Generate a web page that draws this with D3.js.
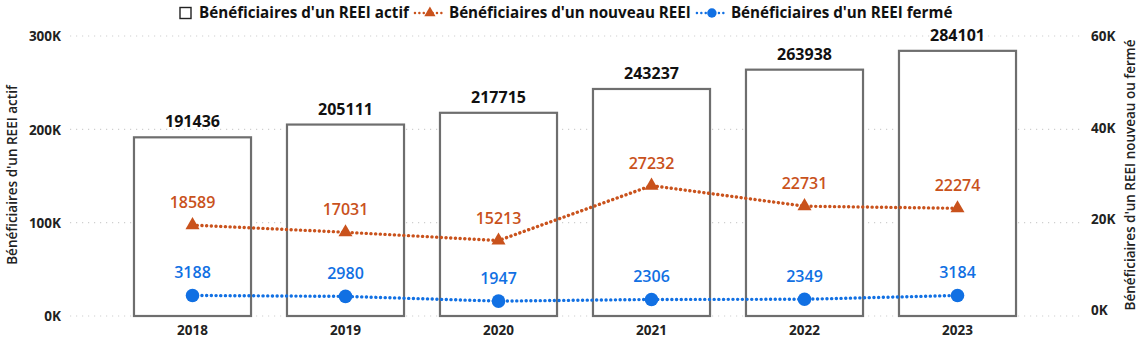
<!DOCTYPE html>
<html><head><meta charset="utf-8">
<script src="https://cdn.jsdelivr.net/npm/d3@7"></script>
<style>
html,body{margin:0;padding:0;background:#fff;}
text{font-family:"Open Sans","Noto Sans",sans-serif;}
</style></head>
<body>
<svg id="chart" width="1140" height="347"></svg>
<script>
const years = ["2018","2019","2020","2021","2022","2023"];
const actifs = [191436,205111,217715,243237,263938,284101];
const nouveaux = [18589,17031,15213,27232,22731,22274];
const fermes = [3188,2980,1947,2306,2349,3184];
const leftTicks = [0,100000,200000,300000];
const rightTicks = [0,20000,40000,60000];
const legendLabels = ["Bénéficiaires d'un REEI actif","Bénéficiaires d'un nouveau REEI","Bénéficiaires d'un REEI fermé"];
const leftTitle = "Bénéficiaires d'un REEI actif";
const rightTitle = "Bénéficiaires d'un REEI nouveau ou fermé";

const orange = "#C9521C", blue = "#1170E3", barStroke = "#6e6e6e";
const svg = d3.select("#chart");

const x = d3.scaleBand().domain(years).range([116,1034]).paddingInner(0.235).paddingOuter(0.1175);
const yL = d3.scaleLinear().domain([0,300000]).range([316,36]);
const yR = d3.scaleLinear().domain([0,60000]).range([310,36]);
const fmtK = d => (d/1000)+"K";

// gridlines
svg.append("g").selectAll("line").data(leftTicks).join("line")
  .attr("x1",70).attr("x2",1082).attr("y1",d=>yL(d)).attr("y2",d=>yL(d))
  .attr("stroke","#cfcfcf").attr("stroke-width",1.2).attr("stroke-dasharray","1.2 4.8");

// left axis
const axL = d3.axisLeft(yL).tickValues(leftTicks).tickFormat(fmtK).tickSize(0).tickPadding(0);
const gL = svg.append("g").attr("transform","translate(61,0)").call(axL);
gL.select(".domain").remove();
gL.selectAll("text").attr("font-size",13.5).attr("font-weight",700).attr("fill","#222").attr("dy","0.35em");

// right axis
const axR = d3.axisRight(yR).tickValues(rightTicks).tickFormat(fmtK).tickSize(0).tickPadding(0);
const gR = svg.append("g").attr("transform","translate(1091,0)").call(axR);
gR.select(".domain").remove();
gR.selectAll("text").attr("font-size",13.5).attr("font-weight",700).attr("fill","#222").attr("dy","0.35em");

// x axis
const axX = d3.axisBottom(x).tickSize(0).tickPadding(0);
const gX = svg.append("g").attr("transform","translate(0,325)").call(axX);
gX.select(".domain").remove();
gX.selectAll("text").attr("font-size",13.5).attr("font-weight",700).attr("fill","#222").attr("dy","0.71em");

// axis titles
svg.append("text").attr("transform",`translate(17,175) rotate(-90)`).attr("text-anchor","middle")
  .attr("font-size",13.5).attr("font-weight",600).attr("fill","#222").text(leftTitle);
svg.append("text").attr("transform",`translate(1135,175) rotate(-90)`).attr("text-anchor","middle")
  .attr("font-size",13.5).attr("font-weight",600).attr("fill","#222").text(rightTitle);

// bars
svg.append("g").selectAll("rect").data(years).join("rect")
  .attr("x",d=>x(d)).attr("width",x.bandwidth())
  .attr("y",(d,i)=>yL(actifs[i])).attr("height",(d,i)=>yL(0)-yL(actifs[i]))
  .attr("fill","#fff").attr("stroke",barStroke).attr("stroke-width",2.2);
svg.append("g").selectAll("text").data(years).join("text")
  .attr("x",d=>x(d)+x.bandwidth()/2).attr("y",(d,i)=>yL(actifs[i])-10)
  .attr("text-anchor","middle").attr("font-size",16).attr("font-weight",700).attr("fill","#111")
  .text((d,i)=>actifs[i]);

const cx = d => x(d)+x.bandwidth()/2;
const line = vals => d3.line().x((d,i)=>cx(years[i])).y(d=>yR(d))(vals);

// lines
function drawSeries(vals,color,shape){
  svg.append("path").attr("d",line(vals)).attr("fill","none").attr("stroke",color)
    .attr("stroke-width",3.4).attr("stroke-linecap","round").attr("stroke-dasharray","0.1 4.6");
  const sym = shape==="tri" ? d3.symbol(d3.symbolTriangle,85) : d3.symbol(d3.symbolCircle,145);
  svg.append("g").selectAll("path").data(vals).join("path")
    .attr("transform",(d,i)=>`translate(${cx(years[i])},${yR(d)})`)
    .attr("d",sym).attr("fill",color);
  svg.append("g").selectAll("text").data(vals).join("text")
    .attr("x",(d,i)=>cx(years[i])).attr("y",d=>yR(d)-17)
    .attr("text-anchor","middle").attr("font-size",16).attr("font-weight",600).attr("fill",color).text(d=>d);
}
drawSeries(nouveaux,orange,"tri");
drawSeries(fermes,blue,"circ");

// legend
const lg = svg.append("g").attr("transform","translate(0,13)");
let lx = 180;
lg.append("rect").attr("x",lx).attr("y",-5.5).attr("width",11).attr("height",11).attr("fill","#fff").attr("stroke","#222").attr("stroke-width",1.4);
lx += 19;
function legText(t){
  const el = lg.append("text").attr("x",lx).attr("y",0).attr("dy","0.35em").attr("font-size",15.2).attr("font-weight",700).attr("fill","#111").text(t);
  lx += el.node().getComputedTextLength();
}
legText(legendLabels[0]);
function legIcon(color,shape){
  lx += 5;
  lg.append("line").attr("x1",lx+1).attr("x2",lx+29).attr("y1",0).attr("y2",0).attr("stroke",color)
    .attr("stroke-width",2.4).attr("stroke-linecap","round").attr("stroke-dasharray","0.1 4.3");
  const sym = shape==="tri" ? d3.symbol(d3.symbolTriangle,55) : d3.symbol(d3.symbolCircle,70);
  lg.append("path").attr("transform",`translate(${lx+16},0)`).attr("d",sym).attr("fill",color);
  lx += 35;
}
legIcon(orange,"tri");
legText(legendLabels[1]);
legIcon(blue,"circ");
legText(legendLabels[2]);
</script>
</body></html>
